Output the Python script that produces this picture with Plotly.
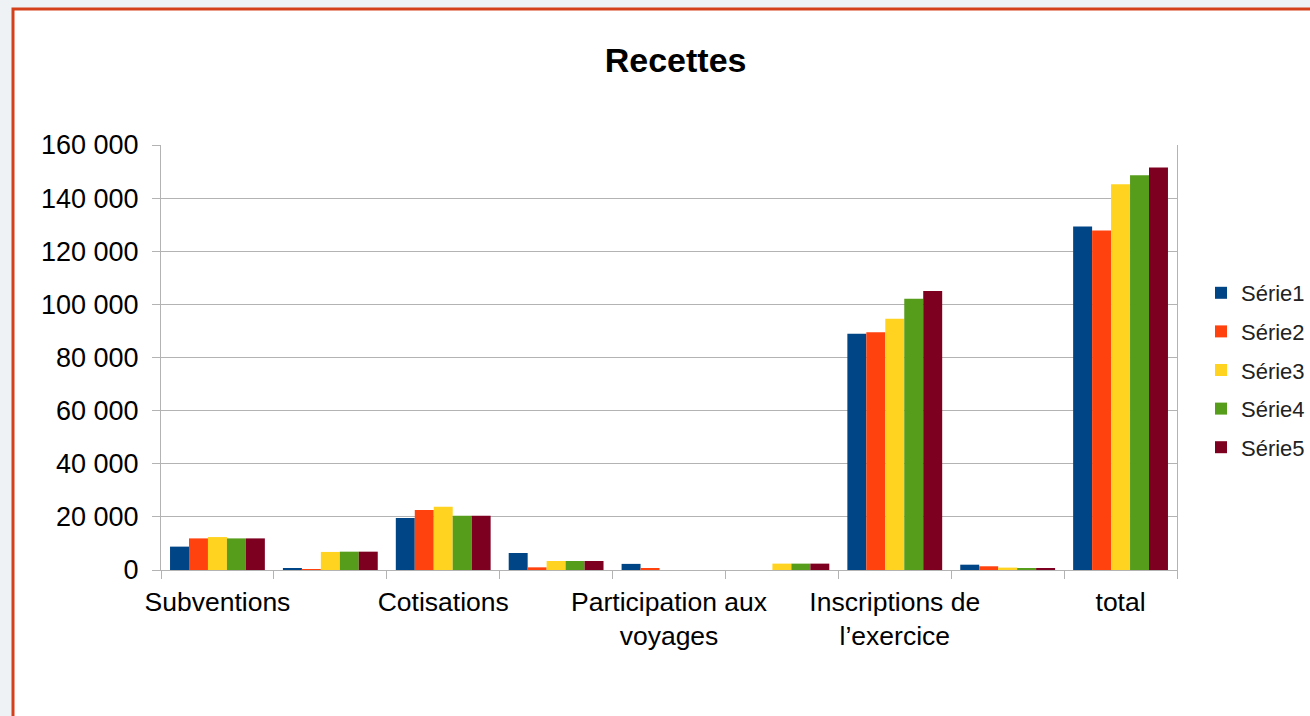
import plotly.graph_objects as go

categories = ["Subventions", "", "Cotisations", "", "Participation aux<br>voyages", "",
              "Inscriptions de<br>l’exercice", "", "total"]
series_names = ["Série1", "Série2", "Série3", "Série4", "Série5"]
serie1 = [8800, 600, 19600, 6400, 2300, 0, 88900, 2000, 129300]
serie2 = [11900, 300, 22600, 1000, 400, 0, 89500, 1400, 127800]
serie3 = [12400, 6800, 23800, 3400, 0, 2400, 94600, 900, 145200]
serie4 = [11900, 6900, 20400, 3400, 0, 2400, 102100, 750, 148600]
serie5 = [11900, 6900, 20400, 3400, 0, 2400, 105000, 600, 151500]
colors = ["#004586", "#ff420e", "#ffd320", "#579d1c", "#7e0021"]
y_ticks = [0, 20000, 40000, 60000, 80000, 100000, 120000, 140000, 160000]

x = list(range(len(categories)))
fig = go.Figure()
for i, (name, vals) in enumerate(zip(series_names, [serie1, serie2, serie3, serie4, serie5])):
    fig.add_trace(go.Bar(x=x, y=vals, name=name, marker=dict(color=colors[i], line=dict(width=0)),
                         legendgroup=name))

L, R, T, B = 161, 133, 145, 146
W, H = 1310, 716
pw, ph = W - L - R, H - T - B

def px_x(p):
    return (p - L) / pw

def px_y(p):
    return (H - B - p) / ph

fig.add_shape(type="rect", xref="paper", yref="paper",
              x0=px_x(13), x1=px_x(1330), y0=px_y(740), y1=px_y(9),
              line=dict(color="#d4401a", width=3), fillcolor="white", layer="below")

tickvals = [i for i, c in enumerate(categories) if c]
ticktext = [c for c in categories if c]

fig.update_layout(
    width=W, height=H, autosize=False,
    margin=dict(l=L, r=R, t=T, b=B, autoexpand=False),
    paper_bgcolor="#eef2f5", plot_bgcolor="rgba(0,0,0,0)",
    separators=", ",
    font=dict(family="Liberation Sans, Arial, sans-serif", color="#000000", size=26),
    title=dict(text="<b>Recettes</b>", x=px_x(685), xanchor="center", y=1 - 60 / H, yanchor="middle",
               font=dict(size=34, color="#000000")),
    bargap=0.16, bargroupgap=0,
    showlegend=True,
    legend=dict(x=px_x(1201), xanchor="left", y=px_y(370), yanchor="middle",
                font=dict(size=22, color="#222222"), traceorder="grouped", tracegroupgap=7,
                bgcolor="rgba(0,0,0,0)", itemwidth=30),
    xaxis=dict(range=[-0.5, 8.5], tickmode="array", tickvals=tickvals, ticktext=ticktext,
               ticks="", showgrid=False, showline=True, linecolor="#b3b3b3", linewidth=1,
               mirror=False, zeroline=False, tickfont=dict(size=26.5), ticklabelstandoff=8,
               minor=dict(tickmode="linear", tick0=-0.5, dtick=1, ticks="outside", ticklen=8,
                          tickcolor="#b3b3b3", showgrid=False)),
    yaxis=dict(range=[0, 160000], tickmode="array", tickvals=y_ticks, tickformat=",d",
               ticks="outside", ticklen=8, tickcolor="#b3b3b3",
               showgrid=True, gridcolor="#b3b3b3", gridwidth=1,
               showline=True, linecolor="#b3b3b3", linewidth=1, mirror=True,
               zeroline=False, tickfont=dict(size=27), ticklabelstandoff=8),
)

post = ("document.body.style.margin='0';document.body.style.overflow='hidden';"
        "var gd=document.getElementById('{plot_id}');"
        "Plotly.relayout(gd,{width:1310,height:716});")
fig.write_html("out.html", config={"responsive": False, "displayModeBar": False}, post_script=post)
